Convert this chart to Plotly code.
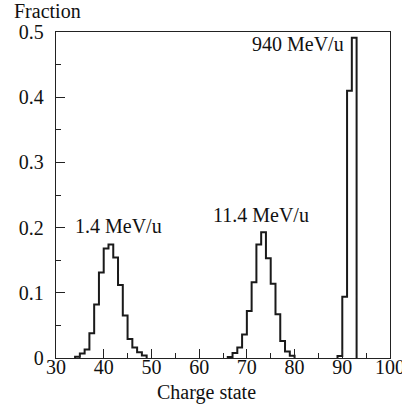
import plotly.graph_objects as go

# Charge-state distributions (fraction per charge state, bins [q, q+1])
low_start = 34          # 1.4 MeV/u
low_frac = [0.002, 0.007, 0.013, 0.038, 0.082, 0.131, 0.168, 0.174,
            0.154, 0.112, 0.065, 0.029, 0.016, 0.009, 0.004]
mid_start = 66          # 11.4 MeV/u
mid_frac = [0.0015, 0.0077, 0.016, 0.036, 0.072, 0.116, 0.174, 0.193,
            0.153, 0.114, 0.067, 0.026, 0.010, 0.0036]
high_start = 89         # 940 MeV/u
high_frac = [0.003, 0.094, 0.41, 0.491]

labels = ["1.4 MeV/u", "11.4 MeV/u", "940 MeV/u"]
x_ticks = [30, 40, 50, 60, 70, 80, 90, 100]
y_ticks = [0, 0.1, 0.2, 0.3, 0.4, 0.5]
y_tick_text = ["0", "0.1", "0.2", "0.3", "0.4", "0.5"]

FONT = "Liberation Serif, Times New Roman, serif"


def step_xy(start, vals):
    edges = list(range(start, start + len(vals) + 1))
    return [edges[0]] + edges, [0] + list(vals) + [0]


fig = go.Figure()
for start, vals in [(low_start, low_frac), (mid_start, mid_frac), (high_start, high_frac)]:
    xs, ys = step_xy(start, vals)
    fig.add_trace(go.Scatter(x=xs, y=ys, mode="lines", line_shape="hv",
                             line=dict(color="#1a1a1a", width=2),
                             showlegend=False, hoverinfo="skip"))

fig.update_layout(
    width=402, height=408,
    margin=dict(l=56, r=12, t=32, b=50),
    paper_bgcolor="white", plot_bgcolor="white",
    font=dict(family=FONT, size=20, color="#111"),
    xaxis=dict(range=[30, 100], tickvals=x_ticks, ticks="inside", ticklen=9,
               tickwidth=1.2, tickcolor="#222", showgrid=False, zeroline=False,
               showline=True, linecolor="#222", linewidth=1.3, mirror=True,
               minor=dict(dtick=5, ticks="inside", ticklen=5, tickwidth=1.2, tickcolor="#222"),
               tickfont=dict(size=20), ticklabelstandoff=-9, ticklabeloverflow="allow",
               automargin=False),
    yaxis=dict(range=[0, 0.5], tickvals=y_ticks, ticktext=y_tick_text, ticks="inside",
               ticklen=9, tickwidth=1.2, tickcolor="#222", showgrid=False, zeroline=False,
               showline=True, linecolor="#222", linewidth=1.3, mirror=True,
               minor=dict(dtick=0.05, ticks="inside", ticklen=5, tickwidth=1.2, tickcolor="#222"),
               tickfont=dict(size=20), ticklabelstandoff=7, automargin=False),
)

ann = dict(xref="paper", yref="paper", showarrow=False, font=dict(family=FONT, size=20, color="#111"))
fig.add_annotation(text="Fraction", x=-0.131, y=1.064, xanchor="left", yanchor="middle", **ann)
fig.add_annotation(text="Charge state", x=0.451, y=-0.107, xanchor="center", yanchor="middle", **ann)
fig.add_annotation(text=labels[0], x=0.1866, y=0.405, xanchor="center", yanchor="middle", **ann)
fig.add_annotation(text=labels[1], x=0.613, y=0.439, xanchor="center", yanchor="middle", **ann)
fig.add_annotation(text=labels[2], x=0.725, y=0.963, xanchor="center", yanchor="middle", **ann)

fig.write_html("out.html")
